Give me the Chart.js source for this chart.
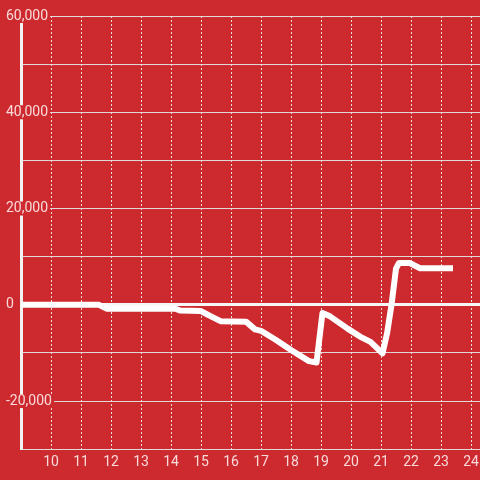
<!DOCTYPE html>
<html>
<head>
<meta charset="utf-8">
<script src="https://cdn.jsdelivr.net/npm/chart.js@4/dist/chart.umd.min.js"></script>
<style>
    html, body { margin: 0; padding: 0; background: #cc2a2f; }
    #wrap { width: 480px; height: 480px; }
</style>
</head>
<body>
<div id="wrap"><canvas id="balanceChart" width="480" height="480"></canvas></div>
<script>
// hour of day
const hours = [9, 11.6, 11.85, 14.15, 14.3, 15.0, 15.3, 15.65, 16.5, 16.8, 17.0, 17.5, 18.0, 18.6, 18.85,
    19.05, 19.3, 19.9, 20.3, 20.65, 21.05, 21.2, 21.35, 21.5, 21.6, 21.95, 22.3, 23.4];
// running balance
const balance = [0, 0, -800, -800, -1200, -1300, -2300, -3400, -3500, -5100, -5400, -7300, -9400, -11700, -12000,
    -1700, -2400, -5000, -6600, -7700, -10100, -6000, 0, 7500, 8700, 8700, 7600, 7600];

const xTickValues = [10, 11, 12, 13, 14, 15, 16, 17, 18, 19, 20, 21, 22, 23, 24];
const yMin = -30000;
const yMax = 60000;
const yStep = 10000;
const yLabelStep = 20000;
const xMin = 9;
const xMax = 24.3;

const bg = '#cc2a2f';
const textColor = 'rgba(255, 236, 236, 0.9)';

document.addEventListener('DOMContentLoaded', () => {
    const points = hours.map((h, i) => ({ x: h, y: balance[i] }));

    const ctx = document.getElementById('balanceChart').getContext('2d');
    new Chart(ctx, {
        type: 'line',
        data: {
            datasets: [{
                data: points,
                borderColor: '#ffffff',
                borderWidth: 6,
                borderJoinStyle: 'round',
                pointRadius: 0,
                fill: false,
                tension: 0
            }]
        },
        options: {
            responsive: false,
            animation: false,
            layout: { padding: { left: 21, top: 16, right: 0, bottom: 4 } },
            plugins: {
                legend: { display: false },
                tooltip: { enabled: false }
            },
            scales: {
                x: {
                    type: 'linear',
                    min: xMin,
                    max: xMax,
                    afterBuildTicks: (scale) => {
                        scale.ticks = xTickValues.map(v => ({ value: v }));
                    },
                    // labels fit inside the canvas already, no extra side padding
                    afterFit: (scale) => {
                        scale.paddingLeft = 0;
                        scale.paddingRight = 0;
                    },
                    ticks: {
                        color: textColor,
                        padding: 5,
                        font: { family: 'Roboto', size: 14 }
                    },
                    grid: {
                        color: 'rgba(240, 240, 240, 0.9)',
                        lineWidth: 1,
                        drawTicks: false
                    },
                    border: { display: false, dash: [2, 2] }
                },
                y: {
                    min: yMin,
                    max: yMax,
                    afterFit: (scale) => { scale.width = 0; },
                    ticks: {
                        stepSize: yStep,
                        mirror: true,
                        padding: -15,
                        color: textColor,
                        font: { family: 'Roboto', size: 14, lineHeight: 1 },
                        showLabelBackdrop: true,
                        backdropColor: (c) => c.tick && c.tick.value % yLabelStep === 0 ? bg : 'transparent',
                        backdropPadding: { left: 2, right: 2, top: 0, bottom: 0 },
                        callback: (v) => v % yLabelStep === 0 ? v.toLocaleString('en-US') : ''
                    },
                    grid: {
                        color: (c) => c.tick && c.tick.value === 0 ? '#f6f6f6' : 'rgba(225, 225, 225, 0.95)',
                        lineWidth: (c) => c.tick && c.tick.value === 0 ? 3 : 1,
                        drawTicks: false
                    },
                    border: { display: true, color: '#f2f2f2', width: 3 }
                }
            }
        }
    });
});
</script>
</body>
</html>
